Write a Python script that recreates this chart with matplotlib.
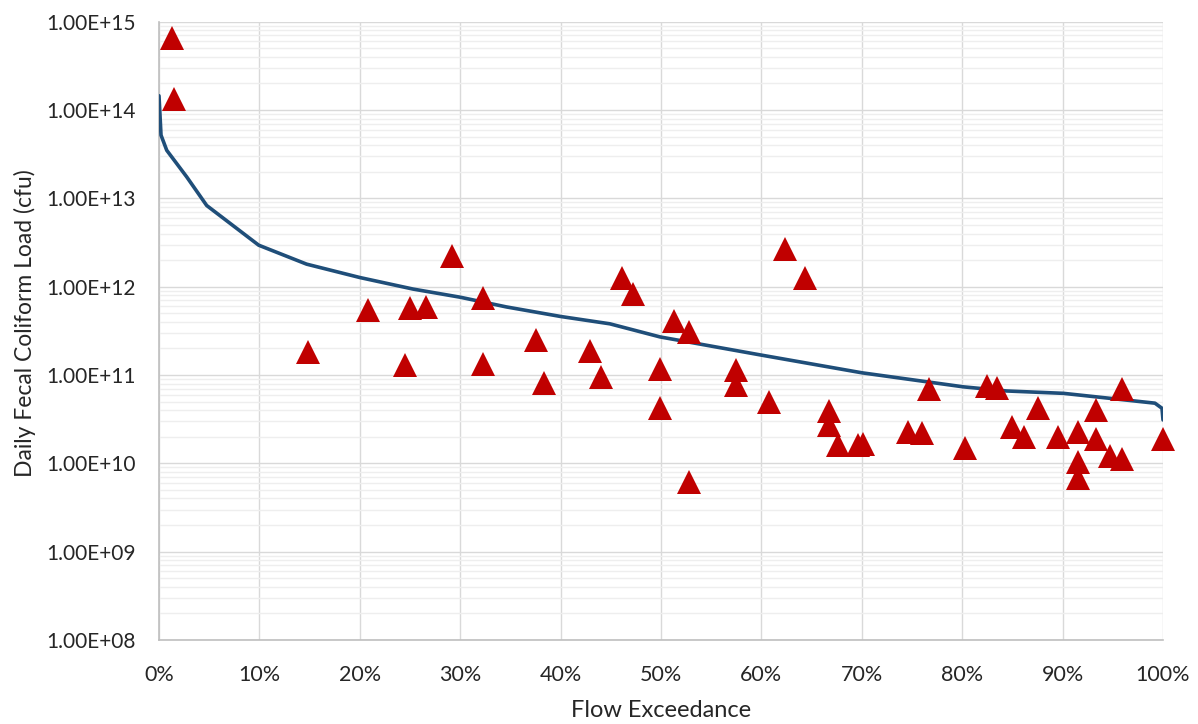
import math
import matplotlib
matplotlib.use("Agg")
import matplotlib.pyplot as plt
from matplotlib.ticker import FuncFormatter, LogLocator, MultipleLocator, NullFormatter

# Load duration curve (flow exceedance %, daily load cfu)
curve_x = [0, 0.2, 0.77, 2.76, 4.75, 9.93, 14.7, 20, 25.3, 30, 34.6, 40, 44.9,
           49.9, 60, 70, 80.1, 84.4, 90.1, 99.2, 99.9, 100]
curve_y = [1.45e14, 5.2e13, 3.5e13, 1.75e13, 8.3e12, 2.95e12, 1.8e12, 1.27e12,
           9.4e11, 7.6e11, 5.9e11, 4.6e11, 3.8e11, 2.7e11, 1.68e11, 1.06e11,
           7.35e10, 6.6e10, 6.2e10, 4.8e10, 4.2e10, 3.1e10]

# Observed samples
obs_x = [1.26, 1.5, 14.84, 20.8, 24.5, 25.0, 26.6, 29.2, 32.3, 32.3, 37.5, 38.3,
         42.9, 44.0, 46.1, 47.2, 49.9, 49.9, 51.3, 52.8, 52.8, 57.5, 57.5, 60.8,
         62.4, 64.3, 66.7, 66.7, 67.6, 69.6, 70.1, 74.6, 76.0, 76.7, 80.3, 82.5,
         83.5, 85.0, 86.2, 87.5, 89.5, 91.5, 91.5, 91.5, 93.3, 93.3, 94.7, 95.9,
         95.9, 100.0]
obs_y = [6.6e14, 1.32e14, 1.8e11, 5.4e11, 1.3e11, 5.7e11, 5.9e11, 2.2e12, 7.5e11,
         1.35e11, 2.5e11, 8.1e10, 1.85e11, 9.4e10, 1.24e12, 8.3e11, 1.16e11,
         4.2e10, 4.1e11, 3.05e11, 6.15e9, 1.13e11, 7.8e10, 4.9e10, 2.7e12,
         1.24e12, 3.9e10, 2.7e10, 1.6e10, 1.6e10, 1.65e10, 2.25e10, 2.2e10,
         7.0e10, 1.5e10, 7.5e10, 7.1e10, 2.57e10, 1.97e10, 4.25e10, 1.97e10,
         2.25e10, 1.03e10, 6.8e9, 4.0e10, 1.9e10, 1.2e10, 1.12e10, 7.0e10, 1.9e10]

x_label = "Flow Exceedance"
y_label = "Daily Fecal Coliform Load (cfu)"

plt.rcParams['font.family'] = ['Lato', 'DejaVu Sans']

fig = plt.figure(figsize=(11.98, 7.24), dpi=100)
ax = fig.add_axes([159/1198, 1 - 640/724, (1163 - 159)/1198, (640 - 21.7)/724])

ax.set_yscale('log')
ax.set_ylim(1e8, 1e15)
ax.set_xlim(0, 100)

ax.plot(curve_x, curve_y, color='#1f4e79', lw=2.6, zorder=3, solid_capstyle='round')
ax.plot(obs_x, obs_y, linestyle='none', marker='^', markersize=17,
        color='#c00000', markeredgewidth=0, zorder=4, clip_on=False)

ax.xaxis.set_major_locator(MultipleLocator(10))
ax.xaxis.set_major_formatter(FuncFormatter(lambda v, p: f"{v:.0f}%"))
ax.yaxis.set_major_locator(LogLocator(base=10, numticks=20))
ax.yaxis.set_minor_locator(LogLocator(base=10, subs=range(2, 10), numticks=100))
ax.yaxis.set_minor_formatter(NullFormatter())


def sci(v, p):
    e = int(round(math.log10(v)))
    return f"1.00E+{e:02d}"


ax.yaxis.set_major_formatter(FuncFormatter(sci))

ax.grid(True, which='major', axis='both', color='#d9d9d9', lw=1.0, zorder=0)
ax.grid(True, which='minor', axis='y', color='#eeeeee', lw=1.0, zorder=0)
ax.set_axisbelow(True)

for s in ['top', 'right']:
    ax.spines[s].set_visible(False)
for s in ['left', 'bottom']:
    ax.spines[s].set_color('#bfbfbf')
    ax.spines[s].set_linewidth(1.2)

ax.tick_params(axis='both', which='both', length=0, colors='#262626')
ax.tick_params(axis='y', labelsize=15, pad=17)
ax.tick_params(axis='x', labelsize=15.5, pad=18)

ax.set_xlabel(x_label, fontsize=17, color='#262626', labelpad=11)
ax.set_ylabel(y_label, fontsize=16.5, color='#262626')
ax.yaxis.set_label_coords(-0.1225, 0.512)

fig.savefig("out.png", dpi=100)
